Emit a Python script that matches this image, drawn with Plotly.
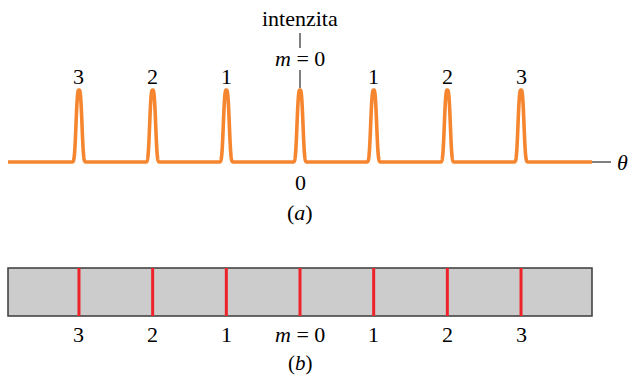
import numpy as np
import plotly.graph_objects as go

# ---- data ----
orders = [-3, -2, -1, 0, 1, 2, 3]
peak_labels = ["3", "2", "1", "0", "1", "2", "3"]
band_labels = ["3", "2", "1", "<i>m</i> = 0", "1", "2", "3"]
peak_heights = [1, 1, 1, 1, 1, 1, 1]

W, H = 628, 377
PX = 73.67          # pixels per order
X0 = 300            # pixel of m = 0
Y0 = 162            # pixel of baseline
PY = 72             # pixels per unit intensity

def xp(p):  # pixel -> data x
    return (p - X0) / PX

def yp(p):  # pixel -> data y
    return (Y0 - p) / PY

x = np.linspace(xp(8), xp(592), 6000)
s = 0.047
inten = np.zeros_like(x)
for m, h in zip(orders, peak_heights):
    inten += h * np.exp(-np.abs((x - m) / s) ** 3)

FONT = "Liberation Serif"
fig = go.Figure()

fig.add_trace(go.Scatter(x=[xp(592), xp(611)], y=[0, 0], mode="lines",
                         line=dict(color="#555555", width=1.5), hoverinfo="skip"))
fig.add_trace(go.Scatter(x=x, y=inten, mode="lines",
                         line=dict(color="#F5862F", width=3.6, simplify=False), hoverinfo="skip"))

shapes = []
b_top, b_bot = yp(268), yp(316)
shapes.append(dict(type="rect", xref="x", yref="y", x0=xp(8), x1=xp(592), y0=b_bot, y1=b_top,
                   fillcolor="#CCCCCC", line=dict(color="#3a3a3a", width=1.5), layer="below"))
for m in orders:
    shapes.append(dict(type="line", xref="x", yref="y", x0=m, x1=m, y0=b_bot, y1=b_top,
                       line=dict(color="#EE2229", width=3)))
shapes.append(dict(type="line", xref="x", yref="y", x0=0, x1=0, y0=yp(33), y1=yp(48),
                   line=dict(color="black", width=1)))
shapes.append(dict(type="line", xref="x", yref="y", x0=0, x1=0, y0=yp(70), y1=yp(88),
                   line=dict(color="black", width=1)))

ann = []
def txt(xv, yv, t, size=22, yanchor="middle"):
    ann.append(dict(x=xv, y=yv, xref="x", yref="y", text=t, showarrow=False,
                    font=dict(family=FONT, size=size, color="black"),
                    xanchor="center", yanchor=yanchor))

for m, lab in zip(orders, peak_labels):
    if m == 0:
        continue
    txt(m, yp(76), lab)
txt(0, yp(182), "0")
txt(0, yp(58), "<i>m</i> = 0")
txt(0, yp(18), "intenzita")
txt(xp(622), yp(162), "<i>θ</i>")
txt(0, yp(212), "(<i>a</i>)")
for m, lab in zip(orders, band_labels):
    txt(m, yp(334), lab)
txt(0, yp(377), "(<i>b</i>)", size=21, yanchor="bottom")

fig.update_layout(
    width=W, height=H, margin=dict(l=0, r=0, t=0, b=0),
    paper_bgcolor="white", plot_bgcolor="white", showlegend=False,
    font=dict(family=FONT),
    xaxis=dict(range=[xp(0), xp(W)], visible=False, fixedrange=True),
    yaxis=dict(range=[yp(H), yp(0)], visible=False, fixedrange=True),
    shapes=shapes, annotations=ann,
)
fig.write_html("out.html")
